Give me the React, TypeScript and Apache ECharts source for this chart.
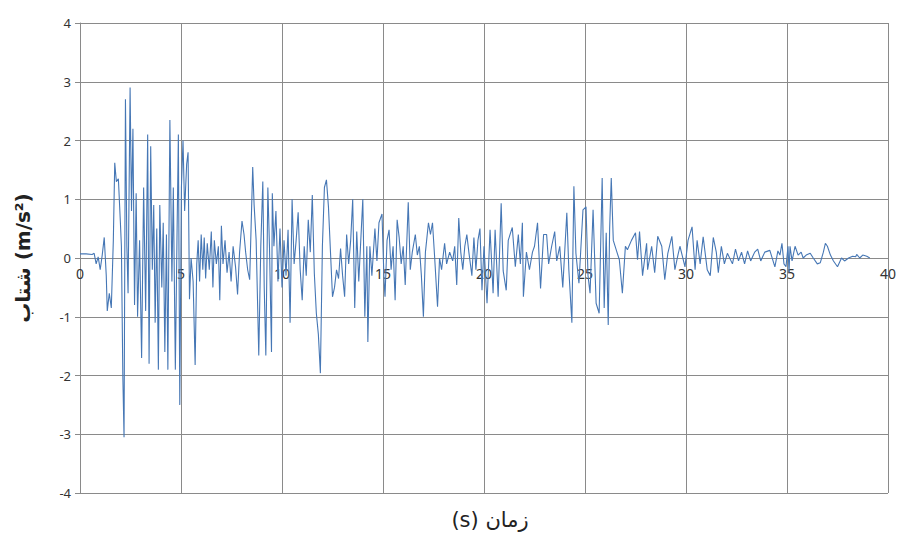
import React, { useEffect, useRef } from "react";
import * as echarts from "echarts";

// time (s)
const times = [
  0, 0.3, 0.6, 0.7, 0.8, 0.9, 1.0, 1.1, 1.2, 1.3, 1.35, 1.45, 1.55, 1.65, 1.72, 1.8, 1.9,
  2.0, 2.05, 2.12, 2.18, 2.25, 2.32, 2.38, 2.48, 2.55, 2.62, 2.7, 2.78, 2.85, 2.95,
  3.05, 3.15, 3.25, 3.35, 3.42, 3.5, 3.58, 3.65, 3.72, 3.8, 3.88, 3.95,
  4.05, 4.12, 4.2, 4.28, 4.35, 4.45, 4.55, 4.62, 4.72, 4.8, 4.87, 4.94,
  5.02, 5.1, 5.18, 5.28, 5.35, 5.42, 5.5, 5.6, 5.7, 5.78, 5.85, 5.92,
  6.0, 6.08, 6.15, 6.22, 6.3, 6.4, 6.5, 6.58, 6.65, 6.75, 6.85, 6.92,
  7.0, 7.08, 7.18, 7.28, 7.38, 7.48, 7.58, 7.7, 7.8, 7.9,
  8.02, 8.12, 8.2, 8.3, 8.4, 8.55, 8.62, 8.72, 8.85, 8.95,
  9.05, 9.12, 9.2, 9.3, 9.38, 9.48, 9.52, 9.6, 9.7, 9.8, 9.9,
  10.0, 10.1, 10.2, 10.3, 10.4, 10.5, 10.6, 10.7, 10.8, 10.9,
  11.0, 11.1, 11.2, 11.3, 11.4, 11.5, 11.6, 11.7, 11.8, 11.9,
  12.0, 12.1, 12.2, 12.3, 12.4, 12.5, 12.6, 12.7, 12.8, 12.9,
  13.0, 13.1, 13.2, 13.3, 13.4, 13.5, 13.6, 13.7, 13.8, 13.9,
  14.0, 14.1, 14.2, 14.25, 14.35, 14.45, 14.6, 14.7, 14.8, 14.95,
  15.05, 15.1, 15.2, 15.3, 15.4, 15.5, 15.6, 15.7, 15.8, 15.9,
  16.0, 16.1, 16.25, 16.35, 16.45, 16.6, 16.7, 16.8, 16.9,
  17.0, 17.1, 17.25, 17.35, 17.45, 17.55, 17.7, 17.8, 17.9,
  18.05, 18.15, 18.3, 18.45, 18.55, 18.65, 18.75, 18.85, 18.95,
  19.05, 19.15, 19.25, 19.4, 19.5, 19.6, 19.7, 19.8, 19.9,
  20.0, 20.15, 20.3, 20.45, 20.55, 20.7, 20.85, 20.95,
  21.1, 21.2, 21.4, 21.55, 21.7, 21.8, 21.9, 21.95,
  22.1, 22.25, 22.4, 22.5, 22.65, 22.8, 22.95,
  23.1, 23.2, 23.35, 23.5, 23.6, 23.75, 23.9,
  24.1, 24.2, 24.35, 24.45, 24.55, 24.7, 24.9,
  25.05, 25.15, 25.25, 25.4, 25.55, 25.7, 25.85, 25.95,
  26.05, 26.15, 26.22, 26.3, 26.4, 26.6, 26.7, 26.85,
  27.0, 27.1, 27.3, 27.5, 27.6, 27.7, 27.85,
  28.05, 28.1, 28.3, 28.45, 28.6, 28.8, 28.95,
  29.1, 29.3, 29.45, 29.6, 29.7, 29.95,
  30.1, 30.3, 30.45, 30.55, 30.7, 30.85,
  31.05, 31.2, 31.35, 31.5, 31.6, 31.75, 31.9,
  32.05, 32.3, 32.45, 32.6, 32.75, 32.9,
  33.05, 33.2, 33.4, 33.55, 33.7, 33.9,
  34.15, 34.4, 34.55, 34.65, 34.75, 34.85, 34.95,
  35.05, 35.1, 35.15, 35.25, 35.4, 35.55, 35.7, 35.8, 35.95,
  36.15, 36.3, 36.5, 36.65, 36.8, 36.9,
  37.0, 37.15, 37.3, 37.5, 37.7, 37.85,
  38.05, 38.25, 38.4, 38.45, 38.6, 38.75, 38.95, 39.1,
];

// acceleration (m/s²)
const accel = [
  0.07, 0.07, 0.06, 0.08, -0.1, 0.02, -0.2, 0.05, 0.35, -0.3, -0.9, -0.6, -0.85, 0.3, 1.62, 1.3, 1.35,
  0.6, 0.2, -2.0, -3.05, 2.7, 0.2, -0.6, 2.9, 0.8, 2.2, -0.8, 1.1, -1.0, 0.3,
  -1.7, 1.2, -0.9, 2.1, -1.8, 1.9, -0.2, 0.9, -1.1, 0.5, -1.9, 0.9,
  -0.5, 0.6, -1.6, 0.4, -1.9, 2.35, -0.4, 1.2, -1.9, 0.3, 2.1, -2.5,
  1.2, 2.0, 0.8, 1.6, 1.8, -0.7, 0.0, -0.4, -1.82, -0.1, 0.3, -0.4,
  0.4, -0.2, 0.35, -0.35, 0.25, -0.2, 0.45, -0.5, 0.3, -0.1, 0.2, -0.72,
  0.55, -0.1, 0.3, -0.25, 0.1, -0.4, 0.2, -0.15, -0.62, 0.1,
  0.63, 0.4, 0.1, -0.2, -0.37, 1.55, 0.9, 0.3, -1.66, 0.2,
  1.3, -0.5, -1.66, 1.2, 0.2, -1.6, 1.1, 0.2, 0.8, -0.4, 0.5,
  -0.5, 0.3, -0.3, 0.48, -1.1, 1.0, -0.1, 0.3, 0.78, -0.2,
  -0.72, 0.2, -0.3, 0.65, 0.1, 1.07, -0.26, -0.94, -1.3, -1.96,
  0.2, 1.2, 1.33, 0.87, 0.1, -0.66, -0.5, -0.2, -0.35, 0.16,
  -0.3, -0.66, 0.4, -0.1, 0.3, 1.0, -0.85, 0.45, -0.4, 0.3,
  1.0, -1.0, 0.2, -1.43, 0.2, -0.3, 0.5, -0.05, 0.6, 0.75,
  -0.37, -0.66, 0.3, 0.48, -0.2, 0.2, -0.72, 0.65, 0.35, -0.1,
  0.2, -0.46, 0.95, -0.2, 0.1, 0.4, 0.05, 0.2, -0.3,
  -1.0, 0.1, 0.6, 0.4, 0.6, 0.05, -0.83, 0.0, -0.2,
  0.25, -0.1, 0.1, -0.05, 0.2, -0.46, 0.68, 0.1, -0.2,
  0.2, 0.4, 0.1, -0.3, 0.35, -0.2, 0.3, 0.5, -0.55,
  0.2, -0.77, 0.48, -0.6, 0.48, -0.66, 0.93, -0.22,
  -0.55, 0.3, 0.52, -0.15, 0.4, -0.1, 0.6, -0.66,
  0.1, -0.2, 0.1, 0.2, 0.6, -0.52, 0.4,
  0.4, -0.1, 0.2, 0.45, -0.05, 0.2, -0.5,
  0.77, -0.2, -1.1, 1.22, 0.08, -0.43, 0.82,
  0.87, -0.3, -0.6, 0.82, -0.77, -0.94, 1.36, -0.85,
  0.43, -1.14, 0.5, 1.36, 0.3, 0.08, -0.03, -0.6,
  0.2, 0.14, 0.3, 0.43, -0.03, 0.45, -0.3,
  0.25, -0.2, 0.2, -0.25, 0.37, 0.2, -0.37,
  0.08, 0.37, -0.2, 0.05, 0.2, -0.15,
  0.3, 0.53, -0.2, 0.3, -0.1, 0.36,
  -0.2, -0.3, 0.35, 0.1, -0.25, 0.2, -0.1,
  0.08, -0.1, 0.15, -0.05, 0.1, -0.1,
  0.12, -0.05, 0.1, 0.15, -0.05, 0.1,
  0.13, -0.15, 0.12, 0.05, 0.25, -0.1, -0.15,
  0.2, -0.25, 0.2, -0.05, 0.2, 0.05, 0.1, 0.0, 0.05,
  0.08, 0.0, -0.1, -0.08, 0.1, 0.25,
  0.2, 0.05, -0.05, -0.15, 0.0, -0.05,
  0.0, 0.03, 0.02, 0.06, 0.0, 0.05, 0.03, 0.0,
];

const xTitle = "(s) زمان";
const yTitle = "شتاب (m/s²)";

const GRID_TOP = 23;
const GRID_BOTTOM = 44;
const CHART_H = 537;

export default function App() {
  const ref = useRef<HTMLDivElement>(null);
  useEffect(() => {
    if (!ref.current) return;
    const chart = echarts.init(ref.current, undefined, { renderer: "svg" });
    const data = times.map((t, i) => [t, accel[i]]);
    const gridColor = "#8a8a8a";
    const plotH = CHART_H - GRID_TOP - GRID_BOTTOM;
    chart.setOption({
      animation: false,
      backgroundColor: "#ffffff",
      grid: { left: 80, right: 13, top: GRID_TOP, bottom: GRID_BOTTOM, containLabel: false },
      xAxis: {
        type: "value",
        position: "bottom",
        offset: -plotH / 2,
        min: 0,
        max: 40,
        interval: 5,
        axisLine: { show: true, onZero: false, lineStyle: { color: gridColor, width: 1 } },
        axisTick: { show: false },
        axisLabel: { fontSize: 14, color: "#333", margin: 8, fontFamily: "Noto Sans" },
        splitLine: { show: true, lineStyle: { color: gridColor, width: 1 } },
      },
      yAxis: {
        type: "value",
        min: -4,
        max: 4,
        interval: 1,
        name: yTitle,
        nameLocation: "middle",
        nameGap: 47,
        nameTextStyle: { fontSize: 20, fontWeight: "bold", color: "#222", fontFamily: "DejaVu Sans" },
        axisLine: { show: true, lineStyle: { color: gridColor, width: 1 } },
        axisTick: { show: true, length: 5, lineStyle: { color: gridColor } },
        axisLabel: { fontSize: 13, color: "#333", margin: 9, fontFamily: "Noto Sans" },
        splitLine: { show: true, lineStyle: { color: gridColor, width: 1 } },
      },
      graphic: [
        {
          type: "text",
          x: 490,
          y: 520,
          style: {
            text: xTitle,
            fontSize: 21,
            fontFamily: "DejaVu Sans",
            fill: "#222",
            align: "center",
            verticalAlign: "middle",
          },
        },
      ],
      series: [
        {
          type: "line",
          data,
          showSymbol: false,
          symbol: "none",
          lineStyle: { color: "#4677b5", width: 1.1 },
          smooth: false,
        },
      ],
    });
    return () => chart.dispose();
  }, []);
  return (
    <div
      ref={ref}
      style={{ position: "absolute", left: 0, top: 0, width: 901, height: 537 }}
    />
  );
}
